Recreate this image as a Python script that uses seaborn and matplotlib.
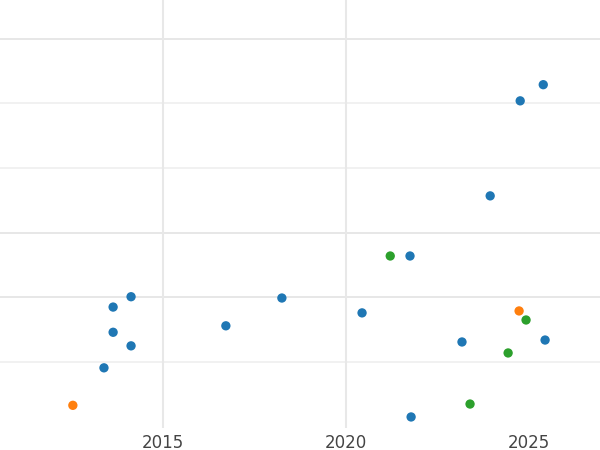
import matplotlib
matplotlib.use("Agg")
import matplotlib.pyplot as plt
import seaborn as sns
import pandas as pd

# ── Datos ───────────────────────────────────────────────────────────────────
blue_x = [2025.39, 2024.76, 2023.94, 2021.75, 2014.13, 2013.64, 2018.25, 2020.44,
          2016.72, 2013.64, 2014.13, 2023.17, 2025.44, 2013.39, 2021.78]
blue_y = [5.29, 5.04, 3.57, 2.64, 2.01, 1.85, 1.99, 1.76,
          1.56, 1.46, 1.25, 1.31, 1.34, 0.91, 0.15]
orange_x = [2012.54, 2024.73]
orange_y = [0.33, 1.79]
green_x = [2021.21, 2024.92, 2024.43, 2023.39]
green_y = [2.64, 1.65, 1.14, 0.35]

df = pd.DataFrame({
    "x": blue_x + orange_x + green_x,
    "y": blue_y + orange_y + green_y,
    "grupo": ["a"] * len(blue_x) + ["b"] * len(orange_x) + ["c"] * len(green_x),
})

sns.set_style("white")
fig = plt.figure(figsize=(6, 4.5), dpi=100)
ax = fig.add_axes([0, 0.049, 1, 0.951])

# ── Rejilla ─────────────────────────────────────────────────────────────────
for yv in [1, 2, 3, 4, 5, 6]:
    c = "#e3e3e3" if yv in (2, 3, 6) else "#efefef"
    ax.axhline(yv, color=c, linewidth=1.2, zorder=0)
for xv in [2015, 2020]:
    ax.axvline(xv, color="#e8e8e8", linewidth=1.5, zorder=0)

sns.scatterplot(data=df, x="x", y="y", hue="grupo",
                palette=["#1f77b4", "#ff7f0e", "#2ca02c"],
                s=45, edgecolor="none", legend=False, ax=ax, zorder=3)

ax.set_xlim(2010.55, 2026.94)
ax.set_ylim(-0.02, 6.6)
ax.set_xticks([2015, 2020, 2025])
ax.set_yticks([])
ax.set_xlabel("")
ax.set_ylabel("")
ax.tick_params(axis="x", length=0, labelsize=12, labelcolor="#444444", pad=4)
for s in ax.spines.values():
    s.set_visible(False)

fig.savefig("out.png", dpi=100)
